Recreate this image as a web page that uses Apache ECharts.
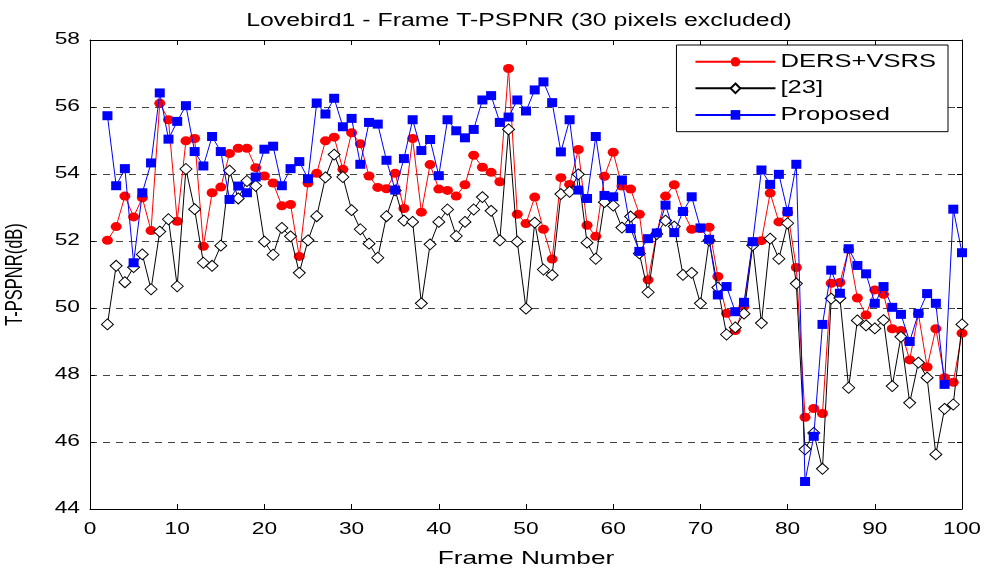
<!DOCTYPE html>
<html><head><meta charset="utf-8">
<script src="https://cdn.jsdelivr.net/npm/echarts@6/dist/echarts.min.js"></script>
<style>html,body{margin:0;padding:0;background:#fff}#c{width:984px;height:569px}</style>
</head><body><div id="c"></div>
<script>
var frames = [];
for (var f = 2; f <= 100; f++) frames.push(f);
var dersVsrs = [52.02,52.43,53.34,52.72,53.29,52.31,56.11,55.62,52.59,54.99,55.06,51.84,53.44,53.61,54.61,54.77,54.77,54.19,53.94,53.73,53.05,53.09,51.54,53.73,54.02,54.99,55.10,54.14,55.23,54.90,53.94,53.60,53.56,54.02,52.97,55.06,52.86,54.28,53.55,53.51,53.34,53.68,54.56,54.20,54.05,53.77,57.15,52.80,52.52,53.31,52.35,51.46,53.89,53.69,54.73,52.47,52.14,53.93,54.65,53.64,53.55,52.80,50.84,52.23,53.34,53.68,52.89,52.35,52.37,52.41,50.94,49.84,49.33,50.05,51.95,52.01,53.43,52.57,52.85,51.21,46.74,47.00,46.85,50.74,50.76,51.75,50.30,49.79,50.54,50.41,49.38,49.33,48.45,49.83,48.24,49.38,47.92,47.78,49.25];
var ref23 = [49.51,51.26,50.77,51.22,51.60,50.56,52.28,52.65,50.65,54.15,52.95,51.35,51.26,51.86,54.10,53.27,53.79,53.65,51.98,51.59,52.39,52.14,51.05,52.02,52.74,53.90,54.58,53.91,52.92,52.35,51.92,51.50,52.74,53.51,52.61,52.57,50.14,51.90,52.57,52.94,52.15,52.57,52.94,53.31,52.90,52.02,55.33,51.98,49.98,52.55,51.15,50.98,53.40,53.47,53.99,51.95,51.47,53.16,53.06,52.40,52.73,51.63,50.47,52.21,52.61,52.43,50.99,51.05,50.14,52.02,50.61,49.21,49.42,49.83,51.87,49.55,52.07,51.47,52.53,50.73,45.78,46.27,45.20,50.28,50.30,47.62,49.63,49.48,49.39,49.64,47.67,49.14,47.17,48.37,47.92,45.63,46.99,47.12,49.51];
var proposed = [55.74,53.65,54.16,51.35,53.44,54.33,56.42,55.04,55.57,56.04,54.67,54.24,55.12,54.67,53.24,53.64,53.44,53.91,54.74,54.83,53.65,54.16,54.37,53.86,56.12,55.79,56.26,55.41,55.66,54.29,55.54,55.49,54.41,53.52,54.46,55.62,54.70,55.03,53.95,55.62,55.29,55.08,55.33,56.21,56.34,55.54,55.70,56.21,55.88,56.51,56.75,56.13,54.66,55.62,53.52,53.27,55.12,53.36,53.32,53.82,52.37,51.69,52.07,52.24,53.07,52.25,52.88,53.32,52.39,52.05,50.39,50.64,49.89,50.17,51.98,54.12,53.69,53.99,52.88,54.29,44.82,46.17,49.51,51.13,50.44,51.77,51.27,51.02,50.14,50.64,50.02,49.81,49.00,49.84,50.43,50.14,47.72,52.95,51.65];
var seriesNames = ['DERS+VSRS', '[23]', 'Proposed'];

function pairs(vals) { return frames.map(function (f, i) { return [f, vals[i]]; }); }

// The reference text is horizontally stretched; widen glyphs on screen.
var SX = 1.42;
(function () {
  var mctx = document.createElement('canvas').getContext('2d');
  echarts.setPlatformAPI({
    measureText: function (text, font) {
      mctx.font = font;
      var m = mctx.measureText(text);
      return {
        width: m.width * SX,
        actualBoundingBoxLeft: m.actualBoundingBoxLeft * SX,
        actualBoundingBoxRight: m.actualBoundingBoxRight * SX,
        actualBoundingBoxAscent: m.actualBoundingBoxAscent,
        actualBoundingBoxDescent: m.actualBoundingBoxDescent,
        fontBoundingBoxAscent: m.fontBoundingBoxAscent,
        fontBoundingBoxDescent: m.fontBoundingBoxDescent,
        emHeightAscent: m.emHeightAscent,
        emHeightDescent: m.emHeightDescent,
        alphabeticBaseline: m.alphabeticBaseline,
        hangingBaseline: m.hangingBaseline,
        ideographicBaseline: m.ideographicBaseline
      };
    }
  });
  var orig = CanvasRenderingContext2D.prototype.fillText;
  CanvasRenderingContext2D.prototype.fillText = function (text, x, y, maxW) {
    var t = this.getTransform();
    this.save();
    this.translate(x, y);
    if (Math.abs(t.b) < 1e-6 && Math.abs(t.c) < 1e-6) this.scale(SX, 1);
    else if (Math.abs(t.a) < 1e-6 && Math.abs(t.d) < 1e-6) this.scale(1, SX);
    orig.call(this, text, 0, 0);
    this.restore();
  };
})();

var FONT = 'Liberation Sans, Arial, sans-serif';
var chart = echarts.init(document.getElementById('c'));
var axisCommon = {
  axisLine: { show: true, onZero: false, lineStyle: { color: '#000', width: 1 } },
  axisTick: { show: true, inside: true, length: 5, lineStyle: { color: '#000' } },
  axisLabel: { color: '#000', fontSize: 16, fontFamily: FONT }
};
chart.setOption({
  animation: false,
  backgroundColor: '#fff',
  title: {
    text: 'Lovebird1 - Frame T-PSPNR (30 pixels excluded)',
    left: 514, textAlign: 'center', top: 3,
    textStyle: { fontSize: 17.5, fontWeight: 'normal', color: '#000', fontFamily: FONT }
  },
  grid: { left: 90, right: 22, top: 40, bottom: 60, containLabel: false, outerBoundsMode: 'none' },
  legend: {
    orient: 'vertical', right: 36, top: 45,
    backgroundColor: '#fff', borderColor: '#000', borderWidth: 1,
    padding: [4, 12, 4, 18], itemGap: 1, itemWidth: 80, itemHeight: 12,
    textStyle: { fontSize: 18, lineHeight: 20, color: '#000', fontFamily: FONT },
    data: seriesNames
  },
  xAxis: [
    Object.assign({}, axisCommon, {
      type: 'value', min: 0, max: 100, interval: 10, position: 'bottom',
      name: 'Frame Number', nameLocation: 'middle', nameGap: 30,
      nameTextStyle: { fontSize: 18.5, color: '#000', fontFamily: FONT },
      axisLabel: { color: '#000', fontSize: 16, fontFamily: FONT, margin: 9 },
      splitLine: { show: false }
    }),
    Object.assign({}, axisCommon, {
      type: 'value', min: 0, max: 100, interval: 10, position: 'top',
      axisLabel: { show: false }, splitLine: { show: false }
    })
  ],
  yAxis: [
    Object.assign({}, axisCommon, {
      type: 'value', min: 44, max: 58, interval: 2, position: 'left',
      name: 'T-PSPNR(dB)', nameLocation: 'middle', nameGap: 62, nameRotate: 90,
      nameTextStyle: { fontSize: 16.5, color: '#000', fontFamily: FONT },
      axisLabel: { color: '#000', fontSize: 16, fontFamily: FONT, margin: 10 },
      splitLine: { show: true, lineStyle: { color: '#444', width: 1, type: [7, 6] } }
    }),
    Object.assign({}, axisCommon, {
      type: 'value', min: 44, max: 58, interval: 2, position: 'right',
      axisLabel: { show: false }, splitLine: { show: false }
    })
  ],
  series: [
    {
      name: seriesNames[0], type: 'line', data: pairs(dersVsrs),
      symbol: 'circle', symbolSize: [11, 9],
      lineStyle: { color: '#ff0000', width: 1 },
      itemStyle: { color: '#ff0000' }, z: 2
    },
    {
      name: seriesNames[1], type: 'line', data: pairs(ref23),
      symbol: 'diamond', symbolSize: [12, 11],
      lineStyle: { color: '#000', width: 1 },
      itemStyle: { color: '#fff', borderColor: '#000', borderWidth: 1 }, z: 3
    },
    {
      name: seriesNames[2], type: 'line', data: pairs(proposed),
      symbol: 'rect', symbolSize: [10, 9],
      lineStyle: { color: '#0000ff', width: 1 },
      itemStyle: { color: '#0000ff' }, z: 4
    }
  ]
});
</script>
</body></html>
